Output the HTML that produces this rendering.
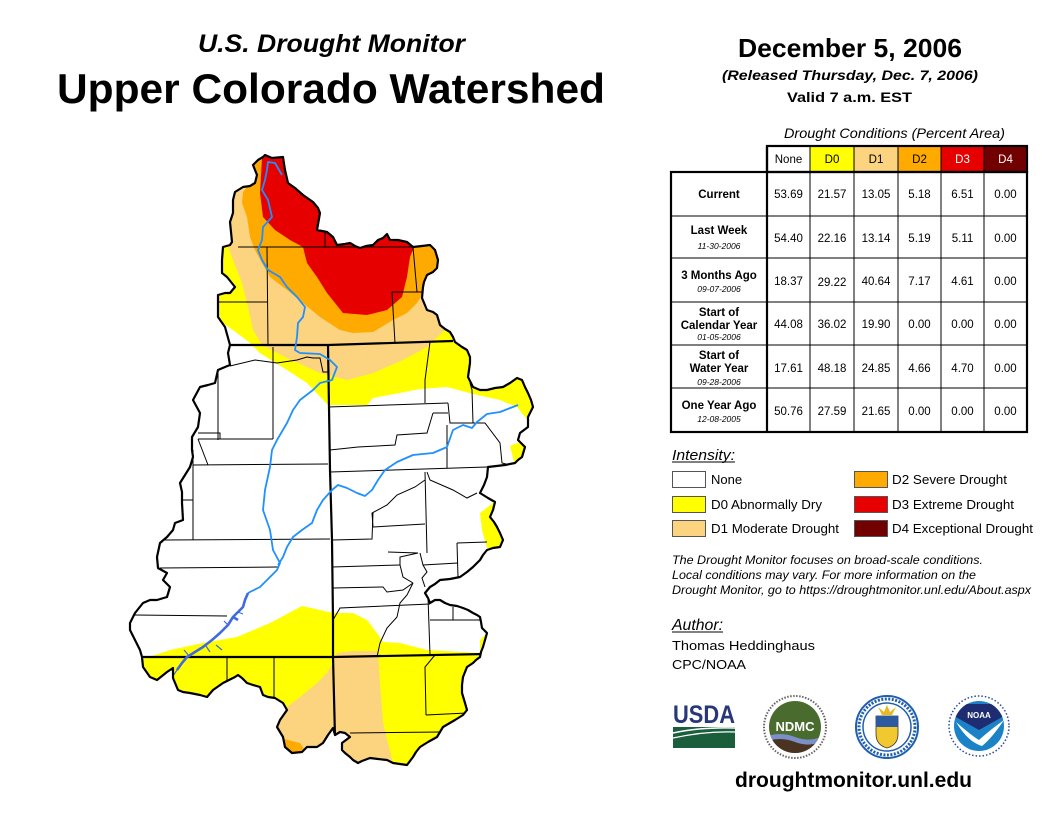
<!DOCTYPE html>
<html><head><meta charset="utf-8"><style>
html,body{margin:0;padding:0;background:#fff;}
svg{display:block;font-family:"Liberation Sans",Arial,sans-serif;}
</style></head><body>
<svg width="1056" height="816" viewBox="0 0 1056 816" xmlns="http://www.w3.org/2000/svg">
<rect width="1056" height="816" fill="#fff"/>
<!-- Titles -->
<text x="198" y="52" font-size="25" font-weight="bold" font-style="italic" textLength="267" lengthAdjust="spacingAndGlyphs">U.S. Drought Monitor</text>
<text x="57" y="103" font-size="42" font-weight="bold" textLength="548" lengthAdjust="spacingAndGlyphs">Upper Colorado Watershed</text>
<text x="738" y="57" font-size="26" font-weight="bold" textLength="224" lengthAdjust="spacingAndGlyphs">December 5, 2006</text>
<text x="722" y="80" font-size="14" font-weight="bold" font-style="italic" textLength="256" lengthAdjust="spacingAndGlyphs">(Released Thursday, Dec. 7, 2006)</text>
<text x="787" y="102" font-size="14" font-weight="bold" textLength="125" lengthAdjust="spacingAndGlyphs">Valid 7 a.m. EST</text>

<!-- MAP -->
<defs>
<clipPath id="ws"><path id="outl" d="M265,155 L272,158 L283,157 L285,170 L288,183 L295,188 L303,195 L313,202 L318,208 L320,213 L317,230 L327,232 L333,237 L337,245 L345,244 L350,243 L355,246 L360,248 L366,246 L373,245 L378,240 L383,238 L387,234 L390,240 L398,240 L407,242 L413,247 L422,246 L430,245 L435,250 L438,260 L437,268 L433,272 L427,275 L424,282 L423,287 L422,298 L427,310 L433,312 L437,315 L440,325 L445,329 L450,332 L453,337 L455,342 L462,347 L467,350 L470,357 L470,363 L468,377 L473,387 L480,390 L487,390 L495,388 L503,387 L510,383 L517,378 L522,380 L525,387 L528,393 L531,400 L533,407 L530,413 L528,417 L528,427 L524,430 L520,433 L518,440 L522,444 L525,447 L522,457 L518,460 L515,463 L505,465 L488,467 L487,477 L484,485 L480,493 L488,498 L495,502 L493,510 L490,517 L494,522 L497,527 L500,533 L503,540 L500,547 L493,548 L487,550 L483,555 L480,560 L473,567 L467,572 L460,577 L450,579 L440,580 L435,584 L430,587 L425,593 L428,598 L430,603 L435,600 L440,600 L445,603 L450,605 L457,606 L463,608 L468,610 L473,613 L477,615 L480,617 L481,622 L482,628 L487,633 L485,640 L483,647 L481,652 L480,657 L476,660 L473,663 L467,667 L465,672 L463,677 L462,685 L462,693 L465,703 L467,710 L463,715 L455,720 L443,727 L440,732 L437,737 L428,742 L420,747 L416,752 L413,757 L407,765 L400,764 L393,763 L387,760 L378,759 L370,758 L362,761 L358,763 L353,760 L350,757 L345,753 L342,750 L342,743 L350,737 L345,733 L340,732 L335,735 L333,728 L328,735 L323,743 L317,747 L307,747 L302,752 L292,753 L285,747 L283,737 L277,727 L280,720 L287,710 L283,703 L275,698 L268,697 L263,695 L260,687 L253,685 L247,683 L242,678 L238,675 L235,677 L223,683 L213,690 L207,697 L200,695 L190,693 L183,692 L178,690 L173,678 L173,668 L167,672 L157,680 L150,677 L143,667 L142,657 L140,650 L135,640 L130,630 L130,623 L135,613 L143,603 L150,600 L157,600 L167,597 L170,587 L163,580 L167,573 L158,568 L157,557 L160,543 L167,537 L173,530 L175,523 L183,520 L182,503 L182,492 L180,483 L185,475 L190,467 L193,457 L192,450 L192,437 L198,427 L200,413 L193,400 L200,387 L208,385 L215,383 L218,370 L225,367 L230,365 L228,353 L230,345 L225,327 L218,317 L218,306 L218,295 L225,293 L230,293 L235,287 L227,277 L222,273 L222,260 L223,247 L230,245 L232,242 L230,222 L233,213 L233,200 L235,192 L243,187 L250,186 L255,183 L257,175 L253,165 L258,160 L263,157 Z"/></clipPath>
</defs>
<g clip-path="url(#ws)">
<rect x="100" y="130" width="460" height="650" fill="#fff"/>
<!-- D0 north -->
<polygon fill="#ffff00" points="195,140 195,318 223,323 237,333 250,343 260,353 287,370 307,383 328,405 367,405 373,398 420,389 447,387 473,394 500,400 517,407 530,423 545,423 545,140"/>
<polygon fill="#ffff00" points="510,446 525,440 530,455 515,466"/>
<polygon fill="#ffff00" points="480,513 497,500 505,540 503,548 487,548 482,530"/>
<polygon fill="#ffff00" points="480,640 490,630 490,660 480,660"/>
<!-- D1 north -->
<polygon fill="#fcd37f" points="210,140 222,238 228,247 233,260 242,283 248,307 253,330 262,345 287,358 320,373 347,380 373,373 403,360 427,347 447,328 455,320 475,300 475,140"/>
<!-- D2 north -->
<polygon fill="#ffaa00" points="240,140 255,160 253,180 243,192 242,203 247,217 250,237 255,250 262,263 270,277 287,290 303,303 320,317 340,330 353,333 373,332 393,320 407,313 417,303 422,295 425,285 430,275 450,262 450,140"/>
<!-- D3 -->
<polygon fill="#e60000" points="262,140 262,158 260,193 263,217 275,230 290,240 303,247 307,263 317,277 327,293 343,313 367,315 387,310 402,297 407,277 410,257 415,245 425,238 425,140"/>
<!-- D0 south -->
<polygon fill="#ffff00" points="120,668 140,660 170,650 203,643 237,637 270,623 302,606 320,610 333,613 353,613 367,620 377,633 383,642 400,643 427,650 480,653 495,650 495,790 120,790"/>
<!-- D1 south -->
<polygon fill="#fcd37f" points="262,708 280,703 287,707 300,697 317,683 327,673 333,663 337,653 353,651 378,651 380,683 383,723 393,763 393,790 262,790"/>
<!-- D2 south -->
<polygon fill="#ffaa00" points="280,738 300,743 306,752 290,757 278,750"/>

<!-- county lines -->
<g fill="none" stroke="#000" stroke-width="1">
<polyline points="238,247 325,247 413,247"/>
<polyline points="325,230 325,247"/>
<polyline points="267,247 268,345"/>
<polyline points="413,247 417,292"/>
<polyline points="392,292 422,292"/>
<polyline points="392,292 395,343"/>
<polyline points="218,302 268,302"/>
<polyline points="430,342 425,380 425,403"/>
<polyline points="470,383 472,390 473,423"/>
<polyline points="218,370 218,440"/>
<polyline points="273,347 273,439"/>
<polyline points="198,439 273,439"/>
<polyline points="198,433 220,433 220,439"/>
<polyline points="230,366 255,360 277,363 297,360 307,357 313,358 320,358 323,372 328,372"/>
<polyline points="198,439 208,465"/>
<polyline points="193,450 193,540"/>
<polyline points="193,465 328,464"/>
<polyline points="182,500 193,500"/>
<polyline points="165,540 330,539"/>
<polyline points="160,568 278,567"/>
<polyline points="135,615 227,616"/>
<polyline points="227,657 227,683"/>
<polyline points="274,657 274,698"/>
<polyline points="328,407 448,403"/>
<polyline points="448,403 450,423 473,423"/>
<polyline points="433,413 448,413"/>
<polyline points="433,413 427,433 397,435 395,445 358,447 330,450"/>
<polyline points="447,425 447,468"/>
<polyline points="473,423 485,423 500,443 502,463 510,465"/>
<polyline points="330,472 487,467"/>
<polyline points="425,472 427,553"/>
<polyline points="425,480 415,487 397,495 387,505 372,513 373,527"/>
<polyline points="427,472 430,480 453,490 467,498 477,493"/>
<polyline points="373,527 425,524"/>
<polyline points="332,540 372,539 373,513"/>
<polyline points="332,567 400,565"/>
<polyline points="388,552 418,553 400,557 400,565 403,577 413,583"/>
<polyline points="423,565 458,563"/>
<polyline points="457,543 487,542"/>
<polyline points="457,543 458,577"/>
<polyline points="420,553 423,565 427,572 422,578 425,587"/>
<polyline points="333,588 383,587 387,592 403,590 413,583"/>
<polyline points="413,583 407,595 400,603 397,617 387,628 380,643 377,657"/>
<polyline points="333,620 340,608 430,604"/>
<polyline points="428,597 430,655"/>
<polyline points="430,620 480,620"/>
<polyline points="453,607 453,620"/>
<polyline points="435,655 425,667 426,715"/>
<polyline points="426,715 467,713"/>
<polyline points="350,733 440,732"/>
</g>
<!-- state lines -->
<g fill="none" stroke="#000" stroke-width="2.2">
<polyline points="225,345 328,345 453,341"/>
<polyline points="328,345 330,470 332,540 333,620 333,657 335,737"/>
<polyline points="138,657 333,657 485,654"/>
</g>
<!-- rivers -->
<g fill="none" stroke="#1e90ff" stroke-width="1.8" stroke-linejoin="round">
<polyline points="282,175 275,163 268,162 267,170 265,180 262,190 268,200 272,217 263,227 262,240 258,250 262,260 268,270 280,277 287,287 297,297 305,307 303,317 298,323 297,337 295,350 300,353 320,354 330,360 337,367 332,380 320,383 313,390 300,400 293,410 287,423 277,440 272,450 270,467 265,490 263,510 270,530 273,550 280,563 277,570 267,580 260,587 248,593"/>
<polyline points="518,405 500,412 487,414 477,422 472,428 463,425 453,430 447,447 433,453 413,455 397,462 385,470 378,480 372,490 365,496 357,493 347,488 338,485 332,490 323,500 317,510 312,523 302,530 293,537 287,547 283,557 278,565"/>
</g>
<g fill="none" stroke="#4169e1" stroke-width="2.6" stroke-linejoin="round">
<polyline points="248,593 245,600 243,607 238,612 233,617 228,625 220,633 212,640 203,647 195,652 187,657 182,663 177,670"/>
<polyline points="233,617 238,620 M220,633 224,638 M203,647 206,654 M195,652 190,646 M212,640 216,645"/>
</g>
<g fill="none" stroke="#4169e1" stroke-width="1.2">
<polyline points="238,612 243,614"/><polyline points="228,625 224,621"/><polyline points="216,645 222,650"/><polyline points="190,657 184,650"/><polyline points="206,646 210,652"/><polyline points="177,670 173,676"/>
</g>
</g>
<use href="#outl" fill="none" stroke="#000" stroke-width="2.2" stroke-linejoin="round"/>

<!-- TABLE -->
<text x="784" y="138" font-size="14" font-style="italic" fill="#000" textLength="221" lengthAdjust="spacingAndGlyphs">Drought Conditions (Percent Area)</text>
<rect x="767" y="146" width="43" height="26" fill="#fff"/>
<rect x="810" y="146" width="44" height="26" fill="#ffff00"/>
<rect x="854" y="146" width="44" height="26" fill="#fcd37f"/>
<rect x="898" y="146" width="43" height="26" fill="#ffaa00"/>
<rect x="941" y="146" width="43" height="26" fill="#e60000"/>
<rect x="984" y="146" width="43" height="26" fill="#730000"/>
<g stroke="#000" stroke-width="1">
<line x1="810" y1="146" x2="810" y2="432"/><line x1="854" y1="146" x2="854" y2="432"/><line x1="898" y1="146" x2="898" y2="432"/><line x1="941" y1="146" x2="941" y2="432"/><line x1="984" y1="146" x2="984" y2="432"/>
<line x1="671" y1="216" x2="1027" y2="216"/><line x1="671" y1="258" x2="1027" y2="258"/><line x1="671" y1="302" x2="1027" y2="302"/><line x1="671" y1="345" x2="1027" y2="345"/><line x1="671" y1="388" x2="1027" y2="388"/>
</g>
<rect x="767" y="146" width="260" height="26" fill="none" stroke="#000" stroke-width="2.2"/>
<rect x="671" y="172" width="356" height="260" fill="none" stroke="#000" stroke-width="2.2"/>
<line x1="767" y1="146" x2="767" y2="432" stroke="#000" stroke-width="2.2"/>
<g font-size="11.5" text-anchor="middle">
<text x="788.5" y="163">None</text><text x="832" y="163">D0</text><text x="876" y="163">D1</text><text x="919.5" y="163">D2</text><text x="962.5" y="163" fill="#fff">D3</text><text x="1005.5" y="163" fill="#fff">D4</text>
</g>
<g font-size="11.5" font-weight="bold" text-anchor="middle">
<text x="719" y="198">Current</text>
<text x="719" y="234">Last Week</text>
<text x="719" y="279">3 Months Ago</text>
<text x="719" y="316">Start of</text><text x="719" y="329">Calendar Year</text>
<text x="719" y="359">Start of</text><text x="719" y="372">Water Year</text>
<text x="719" y="409">One Year Ago</text>
</g>
<g font-size="8.5" font-style="italic" text-anchor="middle">
<text x="719" y="249">11-30-2006</text>
<text x="719" y="292">09-07-2006</text>
<text x="719" y="340">01-05-2006</text>
<text x="719" y="385">09-28-2006</text>
<text x="719" y="422">12-08-2005</text>
</g>
<g font-size="11.5" text-anchor="middle">
<text x="788.5" y="198">53.69</text><text x="832" y="198">21.57</text><text x="876" y="198">13.05</text><text x="919.5" y="198">5.18</text><text x="962.5" y="198">6.51</text><text x="1005.5" y="198">0.00</text>
<text x="788.5" y="242">54.40</text><text x="832" y="242">22.16</text><text x="876" y="242">13.14</text><text x="919.5" y="242">5.19</text><text x="962.5" y="242">5.11</text><text x="1005.5" y="242">0.00</text>
<text x="788.5" y="285">18.37</text><text x="832" y="286">29.22</text><text x="876" y="285">40.64</text><text x="919.5" y="285">7.17</text><text x="962.5" y="285">4.61</text><text x="1005.5" y="285">0.00</text>
<text x="788.5" y="328">44.08</text><text x="832" y="328">36.02</text><text x="876" y="328">19.90</text><text x="919.5" y="328">0.00</text><text x="962.5" y="328">0.00</text><text x="1005.5" y="328">0.00</text>
<text x="788.5" y="372">17.61</text><text x="832" y="372">48.18</text><text x="876" y="372">24.85</text><text x="919.5" y="372">4.66</text><text x="962.5" y="372">4.70</text><text x="1005.5" y="372">0.00</text>
<text x="788.5" y="415">50.76</text><text x="832" y="415">27.59</text><text x="876" y="415">21.65</text><text x="919.5" y="415">0.00</text><text x="962.5" y="415">0.00</text><text x="1005.5" y="415">0.00</text>
</g>

<!-- LEGEND -->
<text x="672" y="460" font-size="15" font-style="italic" textLength="63" lengthAdjust="spacingAndGlyphs">Intensity:</text>
<line x1="672" y1="462" x2="735" y2="462" stroke="#000" stroke-width="1"/>
<g stroke="#555" stroke-width="1">
<rect x="672.5" y="471.5" width="33" height="16" fill="#fff"/>
<rect x="672.5" y="496.5" width="33" height="16" fill="#ffff00"/>
<rect x="672.5" y="520.5" width="33" height="16" fill="#fcd37f"/>
<rect x="854.5" y="471.5" width="33" height="16" fill="#ffaa00"/>
<rect x="854.5" y="496.5" width="33" height="16" fill="#e60000"/>
<rect x="854.5" y="520.5" width="33" height="16" fill="#730000"/>
</g>
<g font-size="13">
<text x="711" y="484">None</text>
<text x="711" y="509" textLength="111" lengthAdjust="spacingAndGlyphs">D0 Abnormally Dry</text>
<text x="711" y="533" textLength="128" lengthAdjust="spacingAndGlyphs">D1 Moderate Drought</text>
<text x="892" y="484" textLength="115" lengthAdjust="spacingAndGlyphs">D2 Severe Drought</text>
<text x="892" y="509" textLength="122" lengthAdjust="spacingAndGlyphs">D3 Extreme Drought</text>
<text x="892" y="533" textLength="141" lengthAdjust="spacingAndGlyphs">D4 Exceptional Drought</text>
</g>
<g font-size="11.5" font-style="italic">
<text x="672" y="564" textLength="311" lengthAdjust="spacingAndGlyphs">The Drought Monitor focuses on broad-scale conditions.</text>
<text x="672" y="579" textLength="304" lengthAdjust="spacingAndGlyphs">Local conditions may vary. For more information on the</text>
<text x="672" y="594" textLength="359" lengthAdjust="spacingAndGlyphs">Drought Monitor, go to https://droughtmonitor.unl.edu/About.aspx</text>
</g>
<text x="672" y="630" font-size="16" font-style="italic" textLength="51" lengthAdjust="spacingAndGlyphs">Author:</text>
<line x1="672" y1="632" x2="723" y2="632" stroke="#000" stroke-width="1"/>
<text x="672" y="650" font-size="13" textLength="143" lengthAdjust="spacingAndGlyphs">Thomas Heddinghaus</text>
<text x="672" y="669" font-size="13" textLength="74" lengthAdjust="spacingAndGlyphs">CPC/NOAA</text>

<!-- LOGOS -->
<text x="673" y="723" font-size="25" font-weight="bold" fill="#27377a" textLength="62" lengthAdjust="spacingAndGlyphs">USDA</text>
<rect x="673" y="727" width="62" height="21" fill="#1b5e3b"/>
<path d="M673,733 Q700,727 735,728" fill="none" stroke="#fff" stroke-width="1.5"/>
<path d="M673,738 Q705,731 735,732" fill="none" stroke="#fff" stroke-width="1.2"/>
<circle cx="795" cy="727" r="31" fill="#fff" stroke="#666" stroke-width="2" stroke-dasharray="1.5,1.5"/>
<clipPath id="nd"><circle cx="795" cy="727" r="26"/></clipPath>
<g clip-path="url(#nd)">
<rect x="765" y="698" width="60" height="60" fill="#4a6b2e"/>
<path d="M765,737 Q780,731 795,737 T825,735 L825,760 L765,760 Z" fill="#7d8fc8"/>
<path d="M765,742 Q780,736 795,742 T825,740 L825,760 L765,760 Z" fill="#4a3320"/>
</g>
<text x="795" y="731" font-size="13" font-weight="bold" fill="#fff" text-anchor="middle">NDMC</text>
<circle cx="887" cy="727" r="31" fill="#fff" stroke="#1f5fae" stroke-width="2"/>
<circle cx="887" cy="727" r="28" fill="none" stroke="#1f5fae" stroke-width="3" stroke-dasharray="2,1.5"/>
<circle cx="887" cy="727" r="24" fill="#fff" stroke="#1f5fae" stroke-width="1.5"/>
<path d="M876,716 L898,716 L898,734 Q898,745 887,748 Q876,745 876,734 Z" fill="#f2c830" stroke="#333" stroke-width="0.8"/>
<rect x="876" y="716" width="22" height="11" fill="#2c5aa0"/>
<path d="M878,707 L884,712 L887,705 L890,712 L896,707 L892,715 L882,715 Z" fill="#e8b820"/>
<circle cx="979" cy="726" r="30" fill="#fff" stroke="#2a4a9a" stroke-width="1.5" stroke-dasharray="1.5,2"/>
<clipPath id="no"><circle cx="979" cy="726" r="25"/></clipPath>
<g clip-path="url(#no)">
<rect x="950" y="700" width="60" height="55" fill="#1b82c8"/>
<path d="M954,704 L1004,704 L1004,716 L979,730 L954,716 Z" fill="#1e2d72"/>
<path d="M956,722 Q972,736 979,740 Q990,730 1004,720 Q992,738 982,746 Q968,742 956,722 Z" fill="#fff"/>
</g>
<text x="979" y="718" font-size="8" font-weight="bold" fill="#fff" text-anchor="middle">NOAA</text>

<text x="735" y="787" font-size="21" font-weight="bold" textLength="237" lengthAdjust="spacingAndGlyphs">droughtmonitor.unl.edu</text>
</svg>
</body></html>
